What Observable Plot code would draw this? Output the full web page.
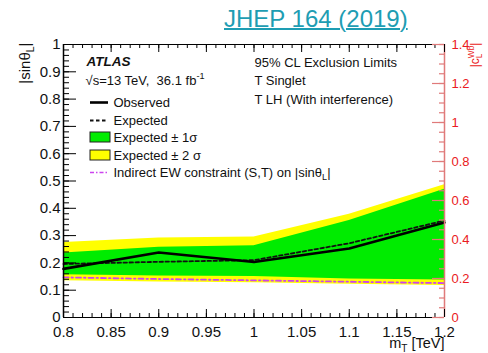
<!DOCTYPE html>
<html>
<head>
<meta charset="utf-8">
<script src="https://cdn.jsdelivr.net/npm/d3@7"></script>
<script src="https://cdn.jsdelivr.net/npm/@observablehq/plot@0.6"></script>
<style>
  body { margin: 0; background: #fff; }
  #wrap { position: relative; width: 488px; height: 353px; font-family: "Liberation Sans", Arial, sans-serif; }
  #ref { position: absolute; left: 224px; top: 7px; font-size: 24px; line-height: 24px; color: #1e9db3;
         text-decoration: underline; text-decoration-thickness: 1.5px; white-space: nowrap; }
  svg { display: block; }
</style>
</head>
<body>
<div id="wrap"><div id="ref">JHEP 164 (2019)</div></div>
<script>
// 95% CL limits on |sinθL| versus the vector-like T mass (TeV)
const mass     = [0.8, 0.9, 1.0, 1.1, 1.2];
const observed = [0.178, 0.238, 0.203, 0.253, 0.348];
const expected = [0.196, 0.204, 0.210, 0.272, 0.355];
const plus1    = [0.236, 0.257, 0.263, 0.355, 0.470];
const minus1   = [0.157, 0.152, 0.150, 0.141, 0.137];
const plus2    = [0.275, 0.291, 0.295, 0.378, 0.486];
const minus2   = [0.135, 0.130, 0.127, 0.122, 0.117];
const ewLimit  = [0.147, 0.141, 0.136, 0.131, 0.126];

// axis ticks and their labels
const xMajor = [0.8, 0.85, 0.9, 0.95, 1, 1.05, 1.1, 1.15, 1.2];
const xMinor = d3.range(80, 121).map(i => i / 100);
const yMajor = [0, 0.1, 0.2, 0.3, 0.4, 0.5, 0.6, 0.7, 0.8, 0.9, 1];
const yMinor = d3.range(0, 51).map(i => i / 50);
const cMajor = [0, 0.2, 0.4, 0.6, 0.8, 1, 1.2, 1.4];   // right axis |c_L^Wb|
const cMinor = d3.range(0, 29).map(i => i / 20);
const cMax = 1.4;

const legendLabels = ["Observed", "Expected", "Expected ± 1σ", "Expected ± 2 σ",
                      "Indirect EW constraint (S,T) on |sinθ_{L}|"];

const rows = mass.map((m, i) => ({
  m, obs: observed[i], exp: expected[i], p1: plus1[i], m1: minus1[i],
  p2: plus2[i], m2: minus2[i], ew: ewLimit[i]
}));

const W = 488, H = 353, ML = 63, MR = 44, MT = 44, MB = 36;
const kx = (W - ML - MR) / 0.4;   // px per TeV
const ky = (H - MT - MB) / 1;     // px per unit of |sinθL|
const px2x = d3.scaleLinear([ML, W - MR], [0.8, 1.2]);
const py2y = d3.scaleLinear([H - MB, MT], [0, 1]);

const GREEN = "#00ec00", YELLOW = "#ffff00", EW = "#cc44ee";
const PINK = "#e07a7a", RED = "#ea1a22";

const note = (s, dx, dy, o = {}) => Plot.text([s], {
  frameAnchor: "top-left", dx: dx - ML, dy: dy - MT, textAnchor: "start",
  lineAnchor: "middle", fontSize: 13, fill: "#111", ...o
});

const legY = [102, 120, 137, 155, 172];

const chart = Plot.plot({
  width: W, height: H,
  marginLeft: ML, marginRight: MR, marginTop: MT, marginBottom: MB,
  style: { fontFamily: "'Liberation Sans', Arial, sans-serif", background: "#fff", overflow: "visible" },
  x: { domain: [0.8, 1.2] },
  y: { domain: [0, 1] },
  marks: [
    // ±2σ and ±1σ expected bands
    Plot.areaY(rows, { x: "m", y1: "m2", y2: "p2", fill: YELLOW }),
    Plot.areaY(rows, { x: "m", y1: "m1", y2: "p1", fill: GREEN }),
    // indirect electroweak constraint
    Plot.line(rows, { x: "m", y: "ew", stroke: EW, strokeWidth: 1.8, strokeDasharray: "5,3,1.5,3" }),
    // expected and observed limits
    Plot.line(rows, { x: "m", y: "exp", stroke: "#111", strokeWidth: 1.8, strokeDasharray: "3.5,2.5" }),
    Plot.line(rows, { x: "m", y: "obs", stroke: "#000", strokeWidth: 2.6 }),

    // frame
    Plot.ruleY([0, 1], { stroke: "#000", strokeWidth: 1.2 }),
    Plot.ruleX([0.8], { stroke: "#000", strokeWidth: 1.5 }),
    Plot.ruleX([1.2], { stroke: PINK, strokeWidth: 1.5 }),

    // inward ticks
    Plot.ruleX(xMajor, { x: d => d, y1: 0, y2: 8 / ky, stroke: "#000" }),
    Plot.ruleX(xMinor, { x: d => d, y1: 0, y2: 4 / ky, stroke: "#000" }),
    Plot.ruleX(xMajor, { x: d => d, y1: 1, y2: 1 - 8 / ky, stroke: "#000" }),
    Plot.ruleX(xMinor, { x: d => d, y1: 1, y2: 1 - 4 / ky, stroke: "#000" }),
    Plot.ruleY(yMajor, { y: d => d, x1: 0.8, x2: 0.8 + 13 / kx, stroke: "#000" }),
    Plot.ruleY(yMinor, { y: d => d, x1: 0.8, x2: 0.8 + 6 / kx, stroke: "#000" }),
    Plot.ruleY(cMajor, { y: d => d / cMax, x1: 1.2 - 12 / kx, x2: 1.2, stroke: PINK, strokeWidth: 1.2 }),
    Plot.ruleY(cMinor, { y: d => d / cMax, x1: 1.2 - 5 / kx, x2: 1.2, stroke: PINK, strokeWidth: 1.2 }),

    // tick labels
    Plot.axisX(xMajor, { tickSize: 0, tickPadding: 9, fontSize: 15, tickFormat: d => String(d), label: null, color: "#111" }),
    Plot.axisY(yMajor, { tickSize: 0, tickPadding: 3, fontSize: 15, tickFormat: d => String(d), label: null, color: "#111" }),
    Plot.axisY(cMajor.map(v => v / cMax), { anchor: "right", tickSize: 0, tickPadding: 7, fontSize: 13,
      tickFormat: d => String(Math.round(d * cMax * 10) / 10), label: null, color: RED }),

    // axis titles
    Plot.text(["|sinθ_{L}|"], { frameAnchor: "top-left", dx: 25 - ML, dy: 42 - MT, rotate: -90,
      textAnchor: "end", lineAnchor: "middle", fontSize: 15, fill: "#111" }),
    Plot.text(["|c_{L}^{Wb}|"], { frameAnchor: "top-right", dx: 475 - (W - MR), dy: 42 - MT, rotate: -90,
      textAnchor: "end", lineAnchor: "middle", fontSize: 12, fill: RED }),
    Plot.text(["m_{T} [TeV]"], { frameAnchor: "bottom-right", dx: 0, dy: 343 - (H - MB),
      textAnchor: "end", lineAnchor: "middle", fontSize: 14.5, fill: "#111" }),

    // labels
    note("ATLAS", 86, 61, { fontWeight: "bold", fontStyle: "italic", fontSize: 13.5 }),
    note("√s=13 TeV,\u00a0 36.1 fb^{-1}", 85, 80),
    note("95% CL Exclusion Limits", 254, 62),
    note("T Singlet", 254, 80),
    note("T LH (With interference)", 254, 99),

    // legend
    Plot.ruleY([py2y(legY[0])], { x1: px2x(90), x2: px2x(108), stroke: "#000", strokeWidth: 2.6 }),
    Plot.ruleY([py2y(legY[1])], { x1: px2x(90), x2: px2x(108), stroke: "#111", strokeWidth: 1.8, strokeDasharray: "3.5,2.5" }),
    Plot.rect([0], { x1: px2x(90), x2: px2x(110), y1: py2y(legY[2] + 5), y2: py2y(legY[2] - 5), fill: GREEN, stroke: "#222", strokeWidth: 1 }),
    Plot.rect([0], { x1: px2x(90), x2: px2x(110), y1: py2y(legY[3] + 5), y2: py2y(legY[3] - 5), fill: YELLOW, stroke: "#222", strokeWidth: 1 }),
    Plot.ruleY([py2y(legY[4])], { x1: px2x(90), x2: px2x(108), stroke: EW, strokeWidth: 1.5, strokeDasharray: "4,2,1.5,2" }),
    ...legendLabels.map((s, i) => note(s, 113, legY[i]))
  ]
});

document.getElementById("wrap").appendChild(chart);

// turn _{..} and ^{..} markup into sub/superscript tspans
d3.select(chart).selectAll("text").each(function () {
  const s = this.textContent;
  if (!/[_^]\{/.test(s)) return;
  const fs = parseFloat(getComputedStyle(this).fontSize) || 13;
  const parts = s.split(/([_^]\{[^}]*\})/).filter(p => p);
  this.textContent = "";
  let shift = 0, prev = null, prevKind = "n";
  for (const p of parts) {
    let kind = "n", txt = p, target = 0;
    if (p.startsWith("_{")) { kind = "sub"; txt = p.slice(2, -1); target = 0.25 * fs; }
    else if (p.startsWith("^{")) { kind = "sup"; txt = p.slice(2, -1); target = -0.42 * fs; }
    const ts = d3.select(this).append("tspan").text(txt).attr("dy", target - shift);
    if (kind !== "n") ts.attr("font-size", 0.7 * fs);
    if (kind === "sup" && prevKind === "sub" && prev) {
      ts.attr("dx", -prev.getComputedTextLength());
    }
    shift = target; prev = ts.node(); prevKind = kind;
  }
});
</script>
</body>
</html>
